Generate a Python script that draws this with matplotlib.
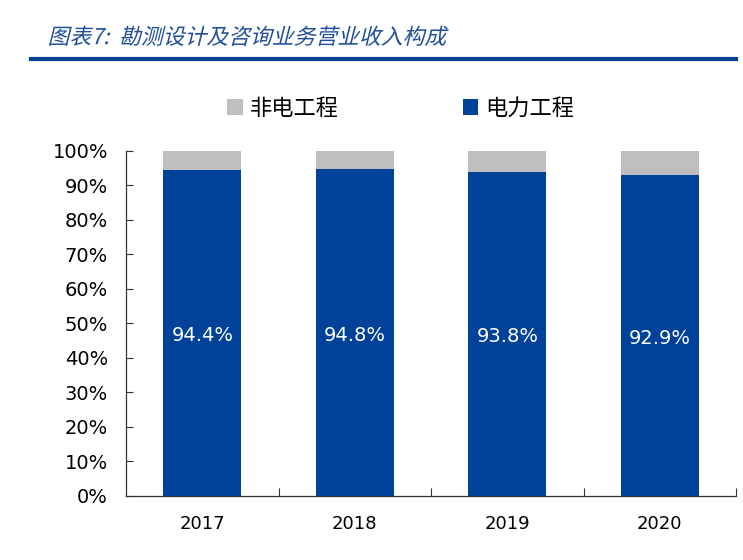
import matplotlib.pyplot as plt
import matplotlib.patheffects as pe
from matplotlib.transforms import Affine2D
from matplotlib.ticker import FixedLocator, PercentFormatter

plt.rcParams['font.family'] = ['Noto Sans CJK SC', 'DejaVu Sans']

years = ['2017', '2018', '2019', '2020']
power = [94.4, 94.8, 93.8, 92.9]          # 电力工程 share, %
non_power = [100 - v for v in power]      # 非电工程 share, %

BLUE = '#00419A'
GREY = '#BFBFBF'


class Slant(pe.AbstractPathEffect):
    # fake italic for the CJK title: skew the glyph paths
    def draw_path(self, renderer, gc, tpath, affine, rgbFace=None):
        renderer.draw_path(gc, tpath, Affine2D().skew_deg(14, 0) + affine, rgbFace)


fig = plt.figure(figsize=(7.43, 5.6), dpi=100)
ax = fig.add_axes([0.1696, 0.1143, 0.8210, 0.6161])

x = range(len(years))
ax.bar(x, power, width=0.51, color=BLUE, label='电力工程', zorder=2)
ax.bar(x, non_power, width=0.51, bottom=power, color=GREY, label='非电工程', zorder=2)

for i, v in enumerate(power):
    ax.text(i, v / 2 - 0.8, f'{v:.1f}%', ha='center', va='center', color='white',
            fontsize=14, family='DejaVu Sans')

ax.set_xlim(-0.5, 3.5)
ax.set_ylim(0, 100)
ax.yaxis.set_major_locator(FixedLocator(range(0, 101, 10)))
ax.yaxis.set_major_formatter(PercentFormatter(decimals=0))
ax.set_xticks(list(x))
ax.set_xticklabels(years)
ax.xaxis.set_minor_locator(FixedLocator([0.5, 1.5, 2.5, 3.5]))
ax.tick_params(axis='x', which='major', length=0, pad=14, labelsize=13)
ax.tick_params(axis='x', which='minor', direction='in', length=6, width=0.8, color='#333333')
ax.tick_params(axis='y', direction='in', length=5, width=0.8, color='#333333',
               pad=13, labelsize=14)
for lab in ax.get_xticklabels() + ax.get_yticklabels():
    lab.set_family('DejaVu Sans')

for s in ['top', 'right']:
    ax.spines[s].set_visible(False)
for s in ['left', 'bottom']:
    ax.spines[s].set_color('#333333')
    ax.spines[s].set_linewidth(0.9)

handles, labels = ax.get_legend_handles_labels()
ax.legend(handles[::-1], labels[::-1], ncol=2, loc='center',
          bbox_to_anchor=(0.45, 1.124), frameon=False, fontsize=16,
          handlelength=0.7, handleheight=0.7, handletextpad=0.3,
          columnspacing=5.6)

fig.text(0.064, 0.932, '图表7:  勘测设计及咨询业务营业收入构成', fontsize=15.7,
         color='#1F4E9A', ha='left', va='center',
         path_effects=[Slant()])
fig.add_artist(plt.Line2D([0.042, 0.99], [0.894, 0.894], color=BLUE, lw=3))

fig.savefig('out.png', dpi=100)
